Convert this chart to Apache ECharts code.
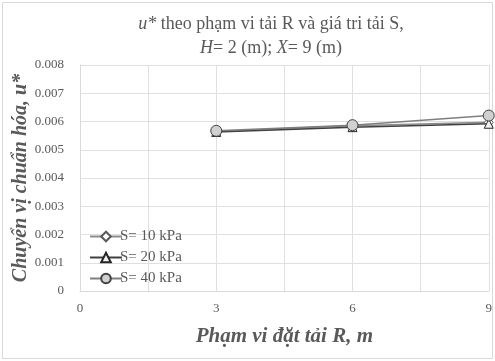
<!DOCTYPE html>
<html><head><meta charset="utf-8">
<script src="https://cdn.jsdelivr.net/npm/echarts@6/dist/echarts.min.js"></script>
<style>html,body{margin:0;padding:0;background:#fff}#c{width:495px;height:361px}</style>
</head><body><div id="c"></div>
<script>
const xValues = [3, 6, 9];
const seriesNames = ['S= 10 kPa', 'S= 20 kPa', 'S= 40 kPa'];
const s10 = [0.00565, 0.00585, 0.00597];
const s20 = [0.00563, 0.00580, 0.00592];
const s40 = [0.00567, 0.00587, 0.00621];
const yTicks = [0, 0.001, 0.002, 0.003, 0.004, 0.005, 0.006, 0.007, 0.008];
const xTicks = [0, 3, 6, 9];

const font = "'Liberation Serif', 'Times New Roman', serif";
const txt = '#595959';
const chart = echarts.init(document.getElementById('c'), null, {renderer: 'canvas'});
function pts(arr){ return xValues.map((x,i)=>[x,arr[i]]); }
chart.setOption({
  animation: false,
  backgroundColor: '#fff',
  textStyle: {fontFamily: font},
  graphic: [{type:'rect', shape:{x:2.5,y:2.5,width:490,height:356}, style:{fill:'none', stroke:'#d9d9d9', lineWidth:1}, silent:true}],
  title: {
    text: '{i|u*} theo phạm vi tải R và giá tri tải S,\n{i|H}= 2 (m); {i|X}= 9 (m)',
    left: 266, top: 7, textAlign: 'center',
    textStyle: {fontFamily: font, fontSize: 18, fontWeight: 'normal', color: txt, lineHeight: 24,
      rich: {i: {fontFamily: font, fontSize: 18, fontStyle: 'italic', color: txt, lineHeight: 24}}}
  },
  grid: {left: 80, right: 6, top: 65, bottom: 70, containLabel: false},
  xAxis: {
    type: 'value', min: 0, max: 9, interval: 1.5,
    axisLine: {show: true, lineStyle: {color: '#d9d9d9'}},
    axisTick: {show: false},
    axisLabel: {fontFamily: font, fontSize: 13, color: txt, margin: 11,
      formatter: v => (xTicks.indexOf(v) >= 0 ? String(v) : '')},
    splitLine: {show: true, lineStyle: {color: '#e0e0e0', width: 1}},
    name: 'Phạm vi đặt tải R, m', nameLocation: 'middle', nameGap: 35, nameMoveOverlap: false,
    nameTextStyle: {fontFamily: font, fontSize: 21, fontStyle: 'italic', fontWeight: 'bold', color: txt}
  },
  yAxis: {
    type: 'value', min: 0, max: 0.008, interval: 0.001,
    axisLine: {show: true, lineStyle: {color: '#d9d9d9'}},
    axisTick: {show: false},
    axisLabel: {fontFamily: font, fontSize: 13, color: txt, margin: 16,
      formatter: v => (v === 0 ? '0' : v.toFixed(3))},
    splitLine: {show: true, lineStyle: {color: '#e0e0e0', width: 1}},
    name: 'Chuyển vị chuẩn hóa, u*', nameLocation: 'middle', nameGap: 49, nameMoveOverlap: false,
    nameTextStyle: {fontFamily: font, fontSize: 20, fontStyle: 'italic', fontWeight: 'bold', color: txt}
  },
  legend: {
    orient: 'vertical', left: 84, top: 224, itemGap: 6, itemWidth: 32, itemHeight: 12,
    textStyle: {fontFamily: font, fontSize: 15, color: txt, padding: [0,0,0,-7]},
    data: seriesNames
  },
  series: [
    {name: seriesNames[0], type: 'line', data: pts(s10), symbol: 'diamond', symbolSize: 9,
      lineStyle: {color: '#8c8c8c', width: 1.5}, itemStyle: {color: '#ffffff', borderColor: '#595959', borderWidth: 1}},
    {name: seriesNames[1], type: 'line', data: pts(s20), symbol: 'triangle', symbolSize: 9,
      lineStyle: {color: '#404040', width: 1.5}, itemStyle: {color: '#f2f2f2', borderColor: '#262626', borderWidth: 1}},
    {name: seriesNames[2], type: 'line', data: pts(s40), symbol: 'circle', symbolSize: 11,
      lineStyle: {color: '#7f7f7f', width: 1.5}, itemStyle: {color: '#d0d0d0', borderColor: '#404040', borderWidth: 1}}
  ]
});
</script></body></html>
